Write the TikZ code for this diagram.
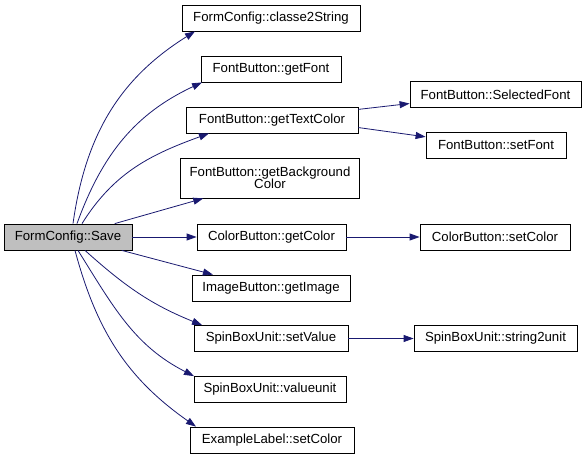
\documentclass[tikz,border=0pt]{standalone}
\usepackage{fontspec}
\setsansfont{Liberation Sans}
\usepackage{tikz}
\usetikzlibrary{arrows.meta}
\definecolor{fcNavy}{HTML}{191970}
\definecolor{fcGray}{HTML}{BFBFBF}
\tikzset{
  fcbox/.style={
    draw=black,
    fill=#1,
    line width=0.8pt,
    align=center,
    inner xsep=9pt,
    inner ysep=2pt,
    minimum height=26pt,
    font=\sffamily\fontsize{13.2}{15}\selectfont
  },
  fcbox/.default=white,
  fcedge/.style={-{Triangle[length=10pt,width=7pt,fill=fcNavy]}, line width=0.8pt, draw=fcNavy}
}
\begin{document}
\begin{tikzpicture}[x=1pt,y=1pt]
  \useasboundingbox (0,0) rectangle (587,459);

  \node[fcbox=fcGray, minimum width=128pt] (save) at (68,222) {FormConfig::Save};

  \node[fcbox, minimum width=178pt] (c2s) at (271,441) {FormConfig::classe2String};
  \node[fcbox, minimum width=140pt] (getfont) at (271,390) {FontButton::getFont};
  \node[fcbox, minimum width=172pt] (gettext) at (272,339) {FontButton::getTextColor};
  \node[fcbox, minimum width=178pt, minimum height=40pt] (getbg) at (270,281) {FontButton::getBackground\\[-3pt]Color};
  \node[fcbox, minimum width=149pt] (getcolor) at (271.5,222) {ColorButton::getColor};
  \node[fcbox, minimum width=158pt] (getimage) at (271,171) {ImageButton::getImage};
  \node[fcbox, minimum width=154pt] (setvalue) at (271,120.5) {SpinBoxUnit::setValue};
  \node[fcbox, minimum width=152pt] (valueunit) at (270,69.5) {SpinBoxUnit::valueunit};
  \node[fcbox, minimum width=164pt] (exlabel) at (272,19) {ExampleLabel::setColor};

  \node[fcbox, minimum width=171pt] (selfont) at (495.5,364.5) {FontButton::SelectedFont};
  \node[fcbox, minimum width=140pt] (setfont) at (496,313.5) {FontButton::setFont};
  \node[fcbox, minimum width=150pt] (setcolor) at (495,222) {ColorButton::setColor};
  \node[fcbox, minimum width=163pt] (s2u) at (495.5,120.5) {SpinBoxUnit::string2unit};

  % calls from Save
  \draw[fcedge] ([xshift=5pt]save.north) to[out=82,in=212] (c2s.190);
  \draw[fcedge] ([xshift=9pt]save.north) to[out=70,in=205] (getfont.191);
  \draw[fcedge] ([xshift=14pt]save.north) to[out=58,in=200] (gettext.192);
  \draw[fcedge] (save.16) -- (getbg.197);
  \draw[fcedge] (save) -- (getcolor);
  \draw[fcedge] (save.-14) -- (getimage.167);
  \draw[fcedge] ([xshift=17pt]save.south) to[out=-42,in=158] (setvalue.169);
  \draw[fcedge] ([xshift=10pt]save.south) to[out=-58,in=153] (valueunit.170);
  \draw[fcedge] ([xshift=7pt]save.south) to[out=-75,in=145] (exlabel.170);

  % second level
  \draw[fcedge] (gettext.7) -- (selfont.186);
  \draw[fcedge] (gettext.-5) -- (setfont.173);
  \draw[fcedge] (getcolor) -- (setcolor);
  \draw[fcedge] (setvalue) -- (s2u);
\end{tikzpicture}
\end{document}
